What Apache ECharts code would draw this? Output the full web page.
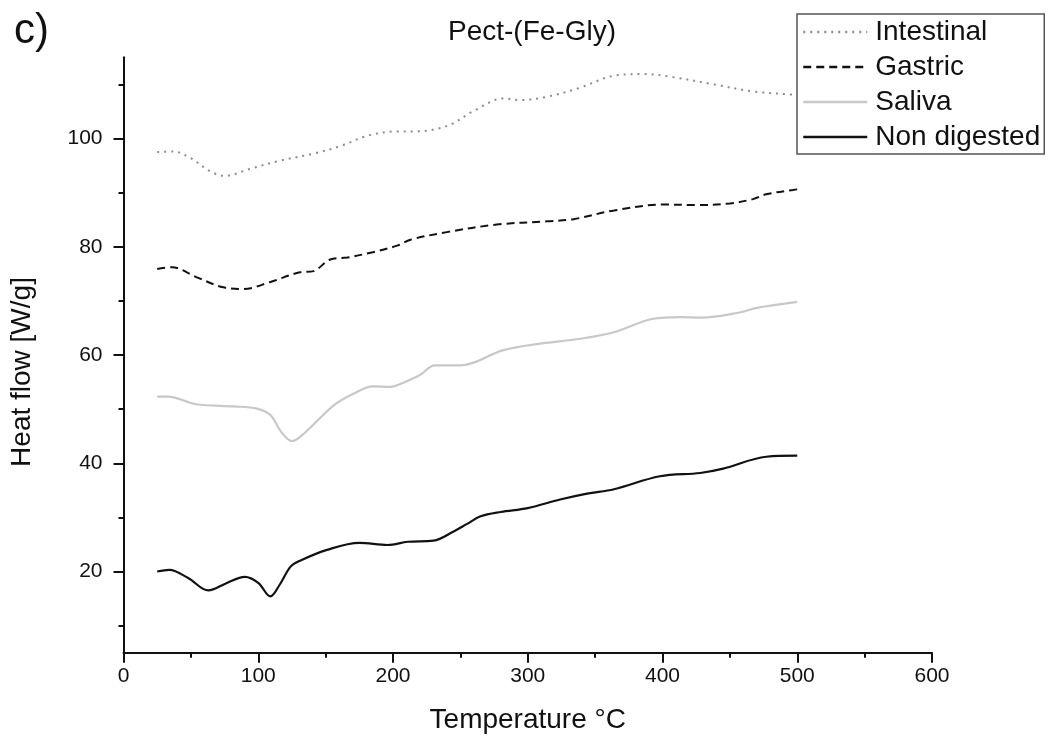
<!DOCTYPE html>
<html>
<head>
<meta charset="utf-8">
<script src="https://cdn.jsdelivr.net/npm/echarts@6/dist/echarts.min.js"></script>
<style>html,body{margin:0;padding:0;background:#fff}#c{width:1049px;height:747px}</style>
</head>
<body>
<div id="c"></div>
<script>
// Temperature (°C) / Heat flow (W/g) pairs
const nonDigestedT = [25, 34, 48, 63, 76, 90, 100, 109, 116, 124, 131, 151, 175, 196, 211, 230, 245, 255, 265, 280, 300, 324, 344, 364, 398, 428, 445, 477, 500];
const nonDigestedV = [20.0, 20.3, 18.8, 16.5, 17.8, 19.0, 17.9, 15.4, 17.6, 20.9, 22.0, 24.0, 25.3, 24.9, 25.5, 25.7, 27.4, 28.8, 30.2, 31.0, 31.7, 33.3, 34.4, 35.2, 37.6, 38.2, 39.0, 41.2, 41.4];

const salivaT = [25, 33, 54, 82, 99, 109, 117, 125, 134, 156, 171, 185, 198, 205, 220, 231, 250, 282, 309, 339, 364, 393, 413, 429, 458, 470, 500];
const salivaV = [52.3, 52.3, 50.9, 50.5, 50.1, 48.9, 45.8, 44.1, 45.5, 50.7, 52.9, 54.2, 54.1, 54.6, 56.3, 58.1, 58.1, 60.9, 62.1, 63.0, 64.2, 66.7, 67.0, 66.9, 67.9, 68.7, 69.8];

const gastricT = [25, 36, 54, 74, 89, 109, 131, 141, 153, 166, 185, 203, 213, 240, 277, 314, 334, 364, 401, 425, 450, 467, 477, 497, 500];
const gastricV = [75.9, 76.2, 74.4, 72.5, 72.2, 73.5, 75.3, 75.5, 77.6, 78.0, 79.0, 80.2, 81.3, 82.7, 84.1, 84.7, 85.1, 86.7, 87.8, 87.7, 88.0, 88.8, 89.7, 90.5, 90.6];

const intestinalT = [25, 37, 49, 64, 75, 94, 116, 141, 161, 181, 203, 215, 240, 260, 282, 294, 314, 339, 364, 386, 406, 438, 467, 497, 500];
const intestinalV = [97.5, 97.6, 96.5, 94.0, 93.1, 94.4, 95.9, 97.2, 98.6, 100.5, 101.3, 101.3, 102.3, 105.1, 107.4, 107.1, 107.7, 109.4, 111.6, 111.9, 111.4, 110.0, 108.7, 108.1, 108.0];

const xTicks = [0, 100, 200, 300, 400, 500, 600];
const yMajorTicks = [20, 40, 60, 80, 100];
const yMinorTicks = [10, 30, 50, 70, 90, 110];

const pair = (t, v) => t.map((x, i) => [x, v[i]]);
const FONT = 'Liberation Sans, Arial, sans-serif';

const chart = echarts.init(document.getElementById('c'), null, {renderer: 'canvas'});
chart.setOption({
  animation: false,
  backgroundColor: '#fff',
  title: {
    text: 'Pect-(Fe-Gly)',
    left: 527, top: 13, textAlign: 'center',
    textStyle: {fontFamily: FONT, fontSize: 28, fontWeight: 'normal', color: '#111'}
  },
  graphic: [{
    type: 'text', left: 14, top: 10,
    style: {text: 'c)', fontFamily: FONT, fontSize: 42, fill: '#111'}
  }, {
    type: 'text', x: 22, y: 372, rotation: Math.PI / 2,
    style: {text: 'Heat flow [W/g]', fontFamily: FONT, fontSize: 28, fill: '#111',
      align: 'center', verticalAlign: 'middle'}
  }],
  legend: {
    orient: 'vertical',
    left: 797, top: 14,
    padding: [4, 4, 3, 5],
    itemGap: 7,
    itemWidth: 64, itemHeight: 28,
    borderColor: '#555', borderWidth: 1.5,
    itemStyle: {opacity: 0},
    lineStyle: {width: 2.5},
    textStyle: {fontFamily: FONT, fontSize: 28, color: '#111', padding: [0, 0, 0, 3]},
    data: ['Intestinal', 'Gastric', 'Saliva', 'Non digested']
  },
  grid: {left: 123.5, right: 117, top: 57.3, bottom: 94.3},
  xAxis: {
    type: 'value', min: 0, max: 600, interval: 100,
    name: 'Temperature °C', nameLocation: 'middle', nameGap: 54,
    nameTextStyle: {fontFamily: FONT, fontSize: 28, color: '#111'},
    axisLine: {lineStyle: {color: '#111', width: 2}},
    axisTick: {length: 10, lineStyle: {color: '#111', width: 2}},
    minorTick: {show: true, splitNumber: 2, length: 5, lineStyle: {color: '#111', width: 2}},
    axisLabel: {fontFamily: FONT, fontSize: 21, color: '#111', margin: 13,
      customValues: xTicks},
    splitLine: {show: false}
  },
  yAxis: [{
    type: 'value', min: 5, max: 115,
    axisLine: {show: true, lineStyle: {color: '#111', width: 2}},
    axisTick: {show: true, length: 10, customValues: yMajorTicks, lineStyle: {color: '#111', width: 2}},
    axisLabel: {fontFamily: FONT, fontSize: 21, color: '#111', margin: 21, customValues: yMajorTicks},
    splitLine: {show: false}
  }, {
    type: 'value', min: 5, max: 115, position: 'left',
    axisLine: {show: false},
    axisTick: {show: true, length: 5, customValues: yMinorTicks, lineStyle: {color: '#111', width: 2}},
    axisLabel: {show: false},
    splitLine: {show: false}
  }],
  series: [
    {name: 'Intestinal', type: 'line', data: pair(intestinalT, intestinalV), smooth: 0.35,
      symbol: 'none', color: '#8c8c8c', lineStyle: {color: '#8c8c8c', width: 2, type: [2, 5]}},
    {name: 'Gastric', type: 'line', data: pair(gastricT, gastricV), smooth: 0.35,
      symbol: 'none', color: '#111', lineStyle: {color: '#111', width: 2, type: [8, 5]}},
    {name: 'Saliva', type: 'line', data: pair(salivaT, salivaV), smooth: 0.35,
      symbol: 'none', color: '#c8c8c8', lineStyle: {color: '#c8c8c8', width: 2.2}},
    {name: 'Non digested', type: 'line', data: pair(nonDigestedT, nonDigestedV), smooth: 0.35,
      symbol: 'none', color: '#111', lineStyle: {color: '#111', width: 2.2}}
  ]
});
</script>
</body>
</html>
